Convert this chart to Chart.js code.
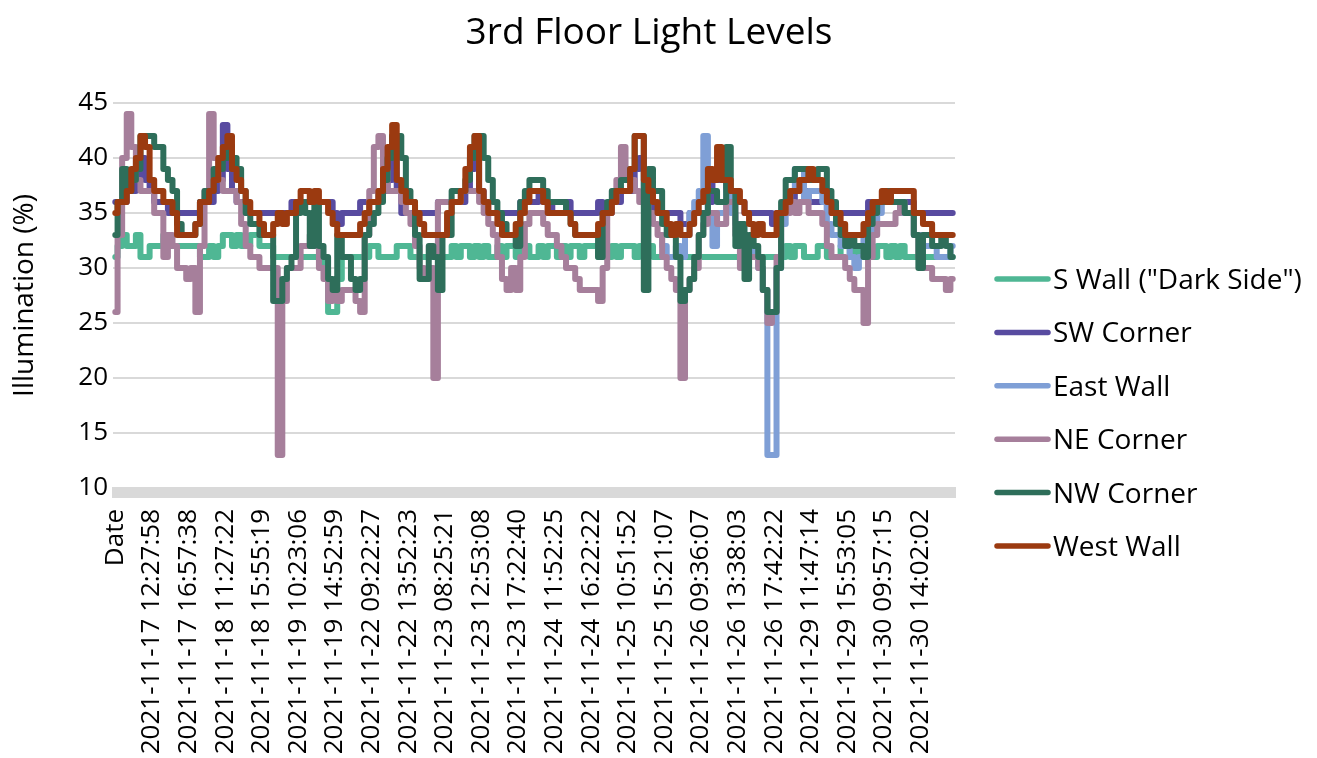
<!DOCTYPE html>
<html>
<head>
<meta charset="utf-8">
<title>3rd Floor Light Levels</title>
<script src="https://cdn.jsdelivr.net/npm/chart.js@4.4.1/dist/chart.umd.min.js"></script>
<style>
  html, body { margin: 0; padding: 0; background: #ffffff; }
  #wrap { width: 1317px; height: 758px; }
</style>
</head>
<body>
<div id="wrap"><canvas id="chart" width="1317" height="758"></canvas></div>
<script>
// Axis labels shown under the plot: one every ROWS_PER_LABEL logged rows.
const tickLabels = [
  "Date", "2021-11-17 12:27:58", "2021-11-17 16:57:38", "2021-11-18 11:27:22",
  "2021-11-18 15:55:19", "2021-11-19 10:23:06", "2021-11-19 14:52:59",
  "2021-11-22 09:22:27", "2021-11-22 13:52:23", "2021-11-23 08:25:21",
  "2021-11-23 12:53:08", "2021-11-23 17:22:40", "2021-11-24 11:52:25",
  "2021-11-24 16:22:22", "2021-11-25 10:51:52", "2021-11-25 15:21:07",
  "2021-11-26 09:36:07", "2021-11-26 13:38:03", "2021-11-26 17:42:22",
  "2021-11-29 11:47:14", "2021-11-29 15:53:05", "2021-11-30 09:57:15",
  "2021-11-30 14:02:02"
];
const ROWS_PER_LABEL = 8;

const chartTitle = "3rd Floor Light Levels";
const yTitle = "Illumination (%)";
const seriesNames = ['S Wall ("Dark Side")', "SW Corner", "East Wall", "NE Corner", "NW Corner", "West Wall"];
const seriesColors = ["#4fb794", "#584ba0", "#7f9fd6", "#a67f9b", "#2e6e5a", "#9b3a10"];

// Light level readings (%), one value per logged row.
const sWall = [
  31,32,33,32,32,33,31,31,32,32,32,
  33,32,32,32,32,32,32,32,31,31,32,31,32,33,33,32,33,32,32,33,33,
  32,32,32,31,31,31,31,31,31,31,31,31,31,31,30,26,26,29,31,31,
  31,31,31,31,32,32,31,31,31,31,32,32,32,31,31,31,31,31,31,31,31,
  31,32,31,32,32,31,32,31,32,31,31,32,31,32,32,31,32,32,31,31,
  32,31,32,32,31,32,31,32,32,31,32,32,32,31,31,31,32,31,32,32,
  32,31,32,32,32,31,31,31,31,31,31,31,31,31,31,31,31,31,31,31,31,
  31,31,31,31,31,31,31,31,31,31,31,31,31,32,31,32,32,31,31,31,
  32,32,31,31,31,32,32,31,32,31,31,32,31,32,32,31,32,31,32,31,31,
  31,31,31,31,31,31,31,31,31
];
const swCorner = [
  36,36,36,37,37,38,40,38,37,36,36,
  36,35,35,35,35,35,35,35,36,36,36,37,38,43,39,37,36,36,35,35,35,
  35,35,35,35,35,35,35,36,36,36,36,36,36,36,36,36,35,34,35,35,
  35,35,36,36,36,36,37,37,38,42,37,35,35,35,35,35,35,35,35,36,36,
  36,36,36,36,37,39,40,37,36,35,35,35,35,35,35,35,36,36,36,36,
  37,36,35,36,36,36,36,35,35,35,35,35,35,36,35,35,36,36,37,37,
  37,39,40,37,36,35,35,35,35,35,35,34,34,35,35,35,35,36,38,38,38,
  37,37,36,36,35,35,35,35,35,35,34,35,35,36,36,37,37,37,36,36,
  36,36,35,35,35,35,35,35,35,35,35,36,35,36,36,36,36,36,36,36,36,
  35,35,35,35,35,35,35,35,35
];
const eastWall = [
  null,null,null,null,null,null,null,null,null,null,null,null,null,null,null,null,null,null,null,null,
  null,null,null,null,null,null,null,null,null,null,null,null,null,null,null,null,null,null,null,null,
  null,null,null,null,null,null,null,null,null,null,null,null,null,null,null,null,null,null,null,null,
  null,null,null,null,null,null,null,null,null,null,null,null,null,null,null,null,null,null,null,null,
  null,null,null,null,null,null,null,null,null,null,null,null,null,null,null,null,null,null,null,null,
  null,null,null,null,null,null,null,null,null,null,null,null,null,null,null,null,null,null,null,
  33,32,31,31,32,31,33,35,36,37,42,35,32,35,35,
  37,35,34,33,31,32,31,30,28,13,13,30,34,36,37,39,39,36,37,37,
  37,36,34,33,33,32,32,31,30,31,33,33,34,35,36,36,36,36,35,35,35,
  33,33,32,32,32,31,31,31,32
];
const neCorner = [
  26,33,40,44,41,38,37,37,37,35,35,
  31,33,32,30,30,29,30,26,32,37,44,40,38,37,37,37,36,34,32,31,31,
  30,30,30,30,13,27,30,30,30,32,32,33,32,30,29,27,28,27,28,28,
  28,27,26,33,37,41,42,39,37,37,37,36,35,34,32,30,29,30,20,36,36,
  36,36,36,37,37,37,37,36,35,34,33,31,29,28,30,28,31,34,35,35,
  35,34,33,33,32,31,30,30,29,28,28,28,28,27,30,35,36,38,41,
  38,38,37,36,36,35,34,33,31,30,29,28,20,28,29,30,33,34,35,35,34,34,
  36,36,33,30,31,31,31,30,28,25,26,31,35,35,36,35,36,36,35,35,
  35,34,32,31,31,31,30,29,28,28,25,31,33,34,34,34,34,35,36,35,35,
  33,31,30,30,29,29,29,28,29
];
const nwCorner = [
  33,36,39,37,38,39,42,42,42,41,41,
  39,38,37,34,33,33,33,34,36,37,37,39,39,40,41,40,39,37,35,34,34,
  33,33,33,27,27,29,30,31,35,36,35,32,36,32,31,29,28,33,31,31,
  29,28,29,33,34,35,36,38,40,42,42,40,37,36,33,29,29,32,31,28,
  33,33,37,37,37,38,40,42,42,40,38,36,35,34,33,33,32,36,37,38,38,
  38,37,36,36,36,36,35,34,33,33,33,33,33,31,35,36,37,37,38,38,
  39,42,42,28,39,37,37,34,33,33,31,27,28,29,31,33,35,37,37,36,36,
  41,37,32,34,29,33,32,31,28,26,26,30,36,38,38,39,39,39,38,38,
  39,39,37,36,34,33,32,33,32,32,31,34,35,36,36,37,36,36,36,35,35,
  33,30,33,33,32,32,33,32,31
];
const westWall = [
  35,36,36,37,39,40,42,41,38,37,37,
  36,36,35,33,33,33,33,34,36,36,37,38,40,41,42,39,38,37,36,35,35,
  34,33,33,34,35,34,35,35,36,37,37,36,37,36,36,35,34,33,33,33,
  33,33,34,35,36,36,37,39,41,43,38,37,36,36,35,34,33,33,33,33,33,
  35,36,36,37,39,41,42,37,36,35,35,34,33,33,33,34,35,36,37,37,
  37,36,35,35,35,35,35,34,33,33,33,33,33,34,35,35,36,37,37,37,
  39,42,42,38,37,36,35,35,34,33,34,33,33,34,35,36,37,39,38,41,
  38,38,
  37,37,36,35,34,33,34,33,33,33,35,35,36,37,37,38,38,39,
  38,38,
  37,36,35,35,34,33,33,33,33,34,35,36,36,37,36,37,37,37,37,37,
  35,35,34,34,33,33,33,33,33
];

const seriesValues = [sWall, swCorner, eastWall, neCorner, nwCorner, westWall];

// Category rows: every ROWS_PER_LABEL-th row carries its timestamp label.
const categories = sWall.map((_, i) =>
  (i % ROWS_PER_LABEL === 0 && tickLabels[i / ROWS_PER_LABEL]) ? tickLabels[i / ROWS_PER_LABEL] : ""
);

const FONT = '"Open Sans", "Noto Sans", sans-serif';
const LINE_WIDTH = 6;

// Thick grey category axis, centred title and right-hand legend.
const decorations = {
  id: "decorations",
  beforeDatasetsDraw(chart) {
    const { ctx, chartArea: a } = chart;
    ctx.save();
    ctx.fillStyle = "#d9d9d9";
    ctx.fillRect(a.left - 1, a.bottom - 1, a.right - a.left + 2, 11);
    ctx.restore();
  },
  afterDraw(chart) {
    const { ctx } = chart;
    ctx.save();
    ctx.fillStyle = "#000000";
    ctx.textBaseline = "alphabetic";
    ctx.textAlign = "center";
    ctx.font = "37px " + FONT;
    ctx.fillText(chartTitle, 649, 44);

    ctx.textAlign = "left";
    ctx.font = "28px " + FONT;
    chart.data.datasets.forEach((ds, k) => {
      const y = 279 + k * 53.4;
      ctx.strokeStyle = ds.borderColor;
      ctx.lineWidth = 5.5;
      ctx.lineCap = "round";
      ctx.beginPath();
      ctx.moveTo(997, y);
      ctx.lineTo(1048, y);
      ctx.stroke();
      ctx.fillText(ds.label, 1053, y + 10);
    });
    ctx.restore();
  }
};

function draw() {
  const datasets = seriesNames.map((name, k) => ({
    label: name,
    data: seriesValues[k],
    borderColor: seriesColors[k],
    backgroundColor: seriesColors[k],
    borderWidth: LINE_WIDTH,
    pointRadius: 0,
    stepped: "middle",
    spanGaps: false,
    borderJoinStyle: "round",
    borderCapStyle: "round",
    order: seriesNames.length - k
  }));

  new Chart(document.getElementById("chart"), {
    type: "line",
    data: { labels: categories, datasets },
    options: {
      responsive: false,
      animation: false,
      devicePixelRatio: 1,
      events: [],
      layout: { padding: { top: 103, right: 362, bottom: 0, left: 0 } },
      plugins: {
        legend: { display: false },
        title: { display: false },
        tooltip: { enabled: false }
      },
      scales: {
        x: {
          type: "category",
          offset: true,
          grid: { display: false, drawTicks: false },
          border: { display: false },
          ticks: {
            autoSkip: false,
            minRotation: 90,
            maxRotation: 90,
            padding: 21,
            color: "#000000",
            font: { family: FONT, size: 26 }
          },
          afterFit(scale) { scale.height = 270; }
        },
        y: {
          min: 10,
          max: 45,
          grid: { color: "#d9d9d9", lineWidth: 2, drawTicks: false },
          border: { display: false },
          ticks: {
            stepSize: 5,
            padding: 5,
            color: "#000000",
            font: { family: FONT, size: 26 }
          },
          title: {
            display: true,
            text: yTitle,
            color: "#000000",
            font: { family: FONT, size: 28 },
            padding: { top: 8, bottom: 0 }
          },
          afterFit(scale) { scale.width = 113; }
        }
      }
    },
    plugins: [decorations]
  });
}

const fontReady = document.fonts && document.fonts.load
  ? Promise.all([document.fonts.load('26px "Open Sans"'), document.fonts.load('37px "Open Sans"')]).catch(() => null)
  : Promise.resolve();
fontReady.then(draw, draw);
</script>
</body>
</html>
